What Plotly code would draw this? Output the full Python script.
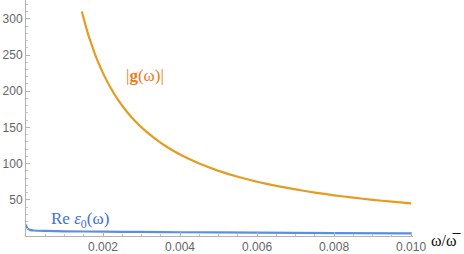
import plotly.graph_objects as go

# |g(omega)| curve
g_x = [0.00145, 0.0015, 0.0016, 0.0017, 0.0018, 0.0019, 0.002, 0.0022, 0.0024,
       0.0026, 0.0028, 0.003, 0.0033, 0.0036, 0.004, 0.0045, 0.005, 0.0055,
       0.006, 0.0065, 0.007, 0.0075, 0.008, 0.0085, 0.009, 0.0095, 0.010]
g_y = [310, 300, 281, 265, 250, 237, 225, 204.5, 187.5, 173, 160.5, 150, 136.5,
       125, 112.5, 100, 90, 81.8, 75, 69.2, 64.3, 60, 56.2, 52.9, 50, 47.4, 45]

# Re eps0(omega) curve
e_x = [0.0, 0.00002, 0.00005, 0.0001, 0.0002, 0.0005, 0.001, 0.002, 0.003,
       0.004, 0.006, 0.008, 0.010]
e_y = [16, 12, 10, 8.5, 7.6, 7.0, 6.5, 6.0, 5.6, 5.2, 4.6, 4.1, 3.7]

x_ticks = [0.002, 0.004, 0.006, 0.008, 0.010]
x_ticktext = ["0.002", "0.004", "0.006", "0.008", "0.010"]
y_ticks = [50, 100, 150, 200, 250, 300]

fig = go.Figure()
fig.add_trace(go.Scatter(x=g_x, y=g_y, mode="lines",
                         line=dict(color="#E59C20", width=2.2, shape="spline",
                                   smoothing=0.4),
                         hoverinfo="skip"))
fig.add_trace(go.Scatter(x=e_x, y=e_y, mode="lines",
                         line=dict(color="#5B8FE3", width=2.2, shape="spline",
                                   smoothing=0.6),
                         hoverinfo="skip"))

axis_common = dict(showline=True, linecolor="#B3B3B3", linewidth=1,
                   showgrid=False, zeroline=False, ticks="inside",
                   tickcolor="#B3B3B3", ticklen=4, automargin=False,
                   tickfont=dict(family="Liberation Sans", size=12, color="#666666"))

W, H = 464, 254
L, R, T, B = 26, 51, 0, 18

fig.update_layout(
    width=W, height=H,
    margin=dict(l=L, r=R, t=T, b=B, autoexpand=False),
    plot_bgcolor="white", paper_bgcolor="white",
    showlegend=False,
    xaxis=dict(range=[0, 0.01005], tickvals=x_ticks, ticktext=x_ticktext,
               minor=dict(ticks="inside", ticklen=2, dtick=0.0005, tick0=0,
                          tickcolor="#C8C8C8"),
               **axis_common),
    yaxis=dict(range=[0, 326], tickvals=y_ticks,
               minor=dict(ticks="inside", ticklen=2, dtick=10, tick0=0,
                          tickcolor="#C8C8C8"),
               **axis_common),
)

labels = [
    (145, 75, "|<b>g</b>(ω)|", 17, "#F07A22"),
    (80, 220, "Re <i>ε</i><sub>0</sub>(ω)", 17, "#3F6FE6"),
    (446, 240, "ω/ω\u0305", 16, "#111111"),
]
pw, ph = W - L - R, H - T - B
for px, py, txt, sz, col in labels:
    fig.add_annotation(x=(px - L) / pw, y=1 - (py - T) / ph,
                       xref="paper", yref="paper", text=txt, showarrow=False,
                       xanchor="center", yanchor="middle",
                       font=dict(family="Liberation Serif", size=sz, color=col))

fig.write_html("out.html", config={"displayModeBar": False},
               post_script="document.body.style.margin='0';document.body.style.overflow='hidden';")
